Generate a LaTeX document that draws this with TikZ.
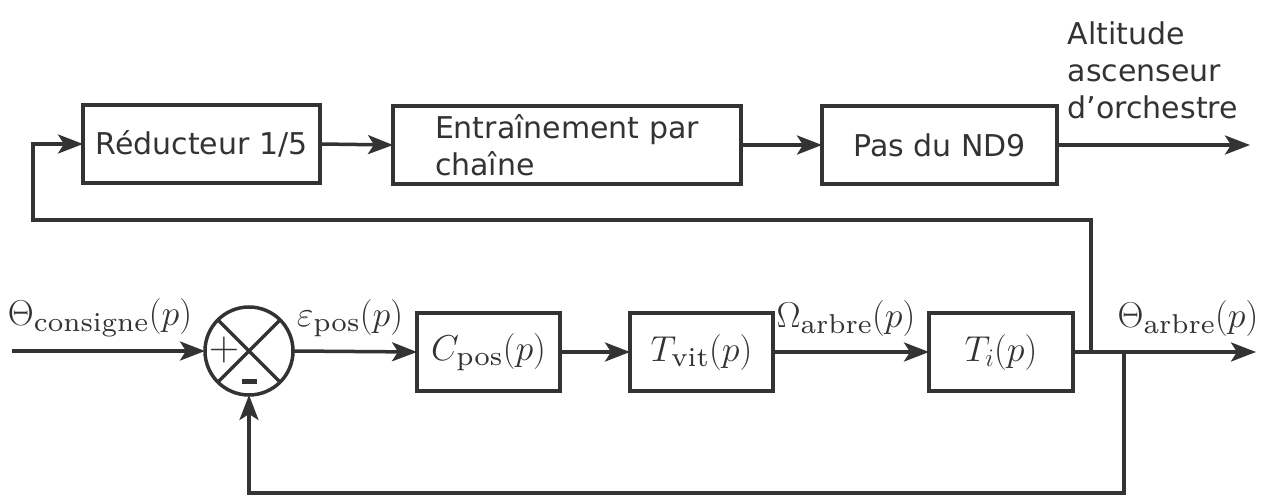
\RequirePackage{fix-cm}
\documentclass[tikz,border=0pt]{standalone}
\usepackage{fontspec}
\setsansfont{DejaVu Sans}
\usetikzlibrary{arrows.meta}
\newcommand\sbx[1]{\scalebox{3.9}{\fontsize{7}{8}\selectfont\rmfamily #1}}
\begin{document}
\begin{tikzpicture}[x=1pt,y=-1pt, line width=3.5pt, color=black!80,
  blk/.style={draw, line width=3.5pt, minimum height=78pt, inner sep=0pt, outer sep=0pt},
  arr/.style={-{Stealth[length=25pt,width=19pt,inset=6pt]}},
  sans/.style={font=\fontsize{30}{37}\selectfont\sffamily},
  mth/.style={font=\fontsize{36}{40}\selectfont}]
\useasboundingbox (0,0) rectangle (1265,497);
% top row
\node[blk, sans, minimum width=237pt] (red) at (201.5,144) {Réducteur 1/5};
\node[blk, sans, minimum width=348pt, align=left] (ent) at (567,145) {Entraînement par\\chaîne};
\node[blk, sans, minimum width=235pt] (pas) at (939.5,145) {Pas du ND9};
\coordinate (altout) at (1250,145);
\node[sans, align=left, anchor=north west, inner sep=0pt] (alt) at (1066,20) {Altitude\\ascenseur\\d\char39 orchestre};
\draw[arr] (red.east) -- (ent.west);
\draw[arr] (ent.east) -- (pas.west);
\draw[arr] (pas.east) -- (altout);
% bottom row
\node[draw, circle, minimum size=88pt, inner sep=0pt, outer sep=0pt] (sum) at (249,351) {};
\draw (sum.north west) -- (sum.south east) (sum.north east) -- (sum.south west);
\node[font=\fontsize{42}{44}\selectfont, inner sep=0pt] (plus) at (224,350) {$+$};
\node[fill, minimum width=15pt, minimum height=5pt, inner sep=0pt] (minus) at (249,381) {};
\node[blk, mth, minimum width=143pt] (cpos) at (488.5,352) {$C_{\sbx{pos}}(p)$};
\node[blk, mth, minimum width=143pt] (tvit) at (701.5,352) {$T_{\sbx{vit}}(p)$};
\node[blk, mth, minimum width=144pt] (ti) at (1001,352) {$T_i(p)$};
\coordinate (in) at (12,351);
\coordinate (b1) at (1091,352);
\coordinate (b2) at (1124,352);
\coordinate (out) at (1256,352);
\coordinate (fb1) at (33,220);
\coordinate (fb2) at (249,493);
\draw[arr] (in) -- (sum.west);
\draw[arr] (sum.east) -- (cpos.west);
\draw[arr] (cpos.east) -- (tvit.west);
\draw[arr] (tvit.east) -- (ti.west);
\draw[arr] (ti.east) -- (out);
\draw[arr] (b1) |- (fb1) |- (red.west);
\draw[arr] (b2) |- (fb2) -- (sum.south);
% labels
\node[mth] (lcons) at (100,318) {$\Theta_{\sbx{consigne}}(p)$};
\node[mth] (leps) at (350,318) {$\varepsilon_{\sbx{pos}}(p)$};
\node[mth] (lom) at (846,318) {$\Omega_{\sbx{arbre}}(p)$};
\node[mth] (lth) at (1188,318) {$\Theta_{\sbx{arbre}}(p)$};
\end{tikzpicture}
\end{document}
